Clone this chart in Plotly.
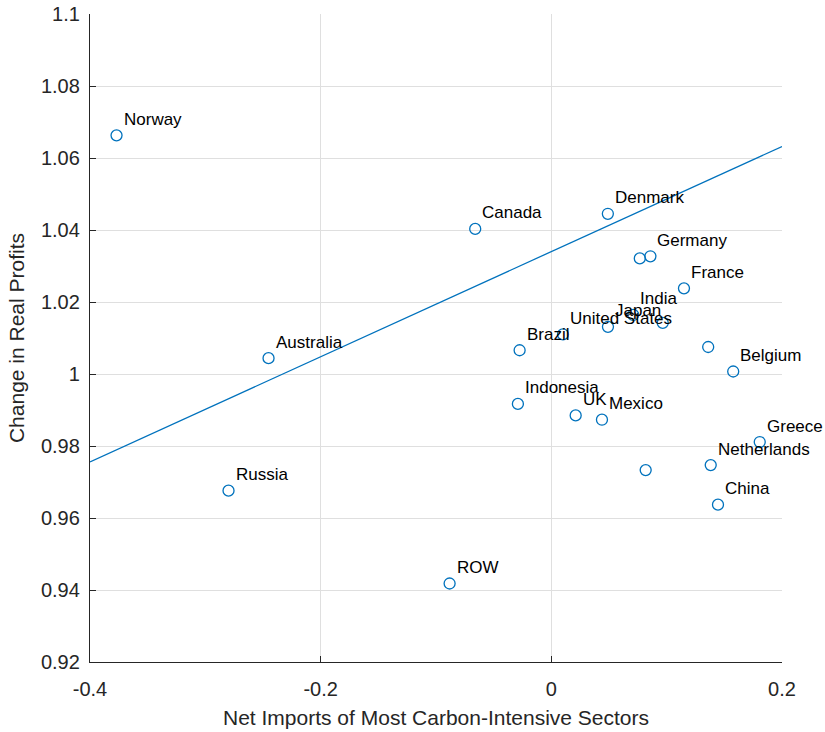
import plotly.graph_objects as go

# ---- data ----
countries = ["Norway", "Canada", "Denmark", "", "Germany", "France", "India", "Japan",
             "", "United States", "Brazil", "Australia", "", "Belgium", "Indonesia",
             "UK", "Mexico", "Greece", "", "Netherlands", "China", "Russia", "ROW"]
net_imports = [-0.377, -0.066, 0.049, 0.0767, 0.0859, 0.115, 0.071, 0.0491,
               0.0966, 0.0101, -0.0275, -0.2452, 0.136, 0.1577, -0.029,
               0.0211, 0.0439, 0.1807, 0.0818, 0.1382, 0.1445, -0.2799, -0.0882]
profit_change = [1.0663, 1.0403, 1.0445, 1.0321, 1.0327, 1.0238, 1.0164, 1.0131,
                 1.0142, 1.0110, 1.0066, 1.0044, 1.0075, 1.0007, 0.9917,
                 0.9885, 0.9873, 0.9811, 0.9733, 0.9747, 0.9637, 0.9676, 0.9418]

fit_intercept = 1.034
fit_slope = 0.146
fit_x = [-0.4, 0.2]

x_ticks = [-0.4, -0.2, 0, 0.2]
x_tick_text = ["-0.4", "-0.2", "0", "0.2"]
y_ticks = [0.92, 0.94, 0.96, 0.98, 1.0, 1.02, 1.04, 1.06, 1.08, 1.1]
y_tick_text = ["0.92", "0.94", "0.96", "0.98", "1", "1.02", "1.04", "1.06", "1.08", "1.1"]

x_title = "Net Imports of Most Carbon-Intensive Sectors"
y_title = "Change in Real Profits"

# ---- styling ----
BLUE = "#0072BD"
AXC = "#262626"
FONT = "Liberation Sans, Arial, sans-serif"

fig = go.Figure()

fit_y = [fit_intercept + fit_slope * v for v in fit_x]
fig.add_trace(go.Scatter(x=fit_x, y=fit_y, mode="lines",
                         line=dict(color=BLUE, width=1.3), hoverinfo="skip",
                         showlegend=False))

fig.add_trace(go.Scatter(x=net_imports, y=profit_change, mode="markers",
                         marker=dict(symbol="circle-open", size=11, color=BLUE,
                                     line=dict(width=1.3, color=BLUE)),
                         text=countries, showlegend=False))

for name, xv, yv in zip(countries, net_imports, profit_change):
    if not name:
        continue
    fig.add_annotation(x=xv, y=yv, text=name, showarrow=False,
                       xanchor="left", yanchor="middle", xshift=5, yshift=16,
                       font=dict(family=FONT, size=17, color="#000000"))

fig.update_layout(
    width=825, height=732,
    margin=dict(l=90, r=43, t=14, b=70),
    paper_bgcolor="white", plot_bgcolor="white",
    font=dict(family=FONT, color=AXC),
    showlegend=False,
)

fig.update_xaxes(
    range=[-0.4, 0.2], tickvals=x_ticks, ticktext=x_tick_text,
    showgrid=True, gridcolor="#dfdfdf", gridwidth=1,
    showline=True, linecolor=AXC, linewidth=1.3,
    ticks="inside", ticklen=6, tickcolor=AXC, tickwidth=1,
    tickfont=dict(family=FONT, size=20, color=AXC), ticklabelstandoff=9,
    zeroline=False, mirror=False, automargin=False,
    title=dict(text=x_title, font=dict(family=FONT, size=21, color=AXC), standoff=11),
)
fig.update_yaxes(
    range=[0.92, 1.1], tickvals=y_ticks, ticktext=y_tick_text,
    showgrid=True, gridcolor="#dfdfdf", gridwidth=1,
    showline=True, linecolor=AXC, linewidth=1.3,
    ticks="inside", ticklen=6, tickcolor=AXC, tickwidth=1,
    tickfont=dict(family=FONT, size=20, color=AXC), ticklabelstandoff=5,
    zeroline=False, mirror=False, automargin=False,
    title=dict(text=y_title, font=dict(family=FONT, size=21, color=AXC), standoff=10),
)

fig.write_html("out.html")
